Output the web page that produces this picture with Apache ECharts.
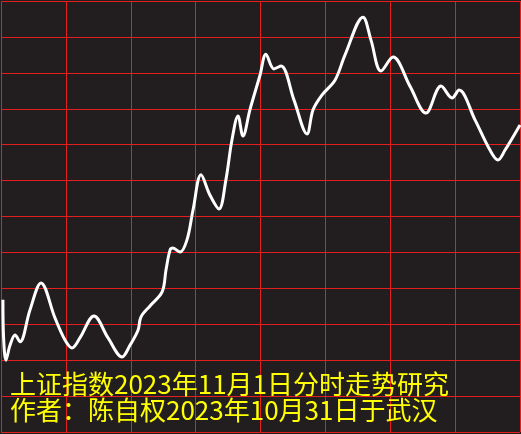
<!DOCTYPE html>
<html>
<head>
<meta charset="utf-8">
<script src="https://cdn.jsdelivr.net/npm/echarts@6/dist/echarts.min.js"></script>
<style>
html,body{margin:0;padding:0;background:#221e1f;}
#c{width:521px;height:434px;}
</style>
</head>
<body>
<div id="c"></div>
<script>
// minutes since open (0..240)
var minutes = [0.9,1.2,2.3,4.2,6.5,8.8,13.4,18.5,25.0,29.6,32.8,36.5,43.0,49.5,56.0,59.7,63.4,64.7,68.9,74.5,76.3,78.2,79.5,82.8,86.0,88.8,92.5,96.6,100.8,104.0,106.8,109.6,111.9,115.1,119.8,122.5,126.2,129.5,135.5,141.5,144.3,148.4,154.5,159.1,167.4,171.1,175.7,181.3,189.1,196.5,203.5,208.6,211.8,219.2,226.1,229.8,233.1,240.0];
// level in grid units (0..12)
var levels = [3.68,2.62,2.00,2.42,2.70,2.51,3.40,4.15,3.17,2.56,2.34,2.62,3.23,2.62,2.09,2.42,2.84,3.20,3.51,3.90,4.51,5.07,5.12,5.01,5.35,6.18,7.16,6.60,6.21,7.02,8.13,8.80,8.24,8.97,9.94,10.52,10.11,10.19,9.24,8.30,8.97,9.38,9.80,10.50,11.55,10.91,10.05,10.44,9.63,8.88,9.63,9.30,9.52,8.69,7.85,7.57,7.85,8.55];
var titleLines = ['上证指数2023年11月1日分时走势研究','作者：陈自权2023年10月31日于武汉'];

var pts = minutes.map(function(m,i){return [m, levels[i]];});
var chart = echarts.init(document.getElementById('c'));
var red = '#e3201f';
chart.setOption({
  backgroundColor:'#221e1f',
  animation:false,
  grid:{left:1,right:1,top:1,bottom:2,containLabel:false},
  xAxis:{type:'value',min:0,max:240,interval:30,
    axisLine:{show:false},axisTick:{show:false},axisLabel:{show:false},
    splitLine:{show:true,lineStyle:{color:red,width:1}}},
  yAxis:{type:'value',min:0,max:12,interval:1,
    axisLine:{show:false},axisTick:{show:false},axisLabel:{show:false},
    splitLine:{show:true,lineStyle:{color:red,width:1}}},
  series:[{type:'line',data:pts,showSymbol:false,smooth:0.35,
    lineStyle:{color:'#ffffff',width:3},z:3}],
  graphic:[
    {type:'text',left:10,top:371,z:10,style:{text:titleLines[0],fill:'#ffff00',font:'26px "Noto Sans CJK SC"'}},
    {type:'text',left:10,top:397,z:10,style:{text:titleLines[1],fill:'#ffff00',font:'26px "Noto Sans CJK SC"'}}
  ]
});
</script>
</body>
</html>
